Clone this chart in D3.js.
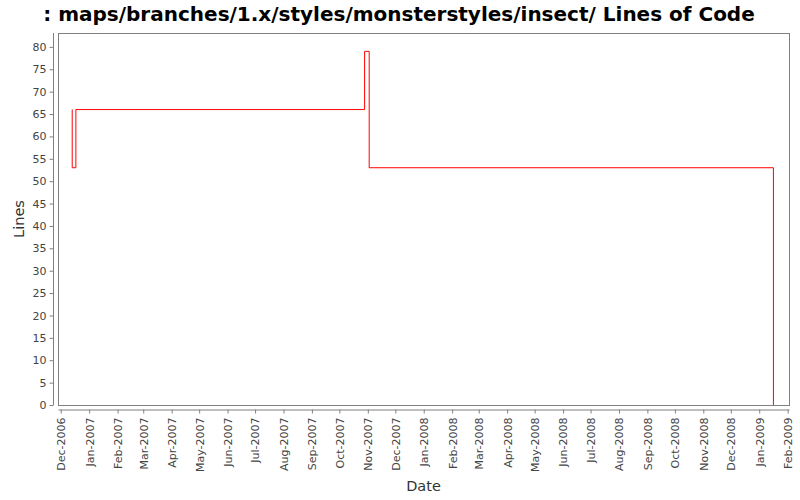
<!DOCTYPE html>
<html><head><meta charset="utf-8">
<script src="https://cdn.jsdelivr.net/npm/d3@7"></script>
<style>body{margin:0;background:#fff}svg{display:block}text{font-family:"DejaVu Sans",sans-serif}</style>
</head><body><svg id="c" width="800" height="500"></svg>
<script>
const title = ": maps/branches/1.x/styles/monsterstyles/insect/ Lines of Code";
const dates = ["2006-12-13T08:00","2006-12-13T12:00","2006-12-17T12:00","2007-10-28T12:00","2007-11-02T12:00","2009-01-16T12:00"];
const lines = [66, 53, 66, 79, 53, 0];
const yTicks = [0,5,10,15,20,25,30,35,40,45,50,55,60,65,70,75,80];
const xDomain = ["2006-11-28T00:00","2009-02-02T12:00"];
const yMax = 83.1;

const svg = d3.select("#c");
const L = 58, R = 789, T = 33, B = 405;
const parse = d3.isoParse;
const x = d3.scaleTime().domain(xDomain.map(parse)).range([L, R]);
const y = d3.scaleLinear().domain([0, yMax]).range([B, T]);

svg.append("rect").attr("x", L).attr("y", T).attr("width", R - L).attr("height", B - T)
  .attr("fill", "#fff").attr("stroke", "#808080").attr("stroke-width", 1)
  .attr("shape-rendering", "crispEdges");

// y axis
const ya = svg.append("g").attr("transform", `translate(${L - 4.5},0)`)
  .call(d3.axisLeft(y).tickValues(yTicks).tickSize(4).tickPadding(3));
// x axis
const months = d3.timeMonth.range(parse("2006-12-01"), parse("2009-02-02"));
const fmt = d3.timeFormat("%b-%Y");
const xa = svg.append("g").attr("transform", `translate(0,${B + 4.5})`)
  .call(d3.axisBottom(x).tickValues(months).tickFormat(fmt).tickSize(4).tickSizeOuter(0));
[ya, xa].forEach(g => {
  g.select(".domain").attr("stroke", "#808080");
  g.selectAll(".tick line").attr("stroke", "#808080");
  g.selectAll("text").attr("fill", "#444").attr("font-size", 11).attr("font-family", "DejaVu Sans, sans-serif");
});
ya.select(".domain").attr("d", `M0,${B}V${T}`);
xa.selectAll(".tick text").attr("transform", "rotate(-90)").attr("text-anchor", "end")
  .attr("x", -8).attr("y", 0).attr("dy", "0.35em");

// line
const data = dates.map((d, i) => ({ d: parse(d), v: lines[i] }));
svg.append("path").datum(data)
  .attr("d", d3.line().x(d => x(d.d)).y(d => y(d.v)).curve(d3.curveStepAfter))
  .attr("fill", "none").attr("stroke", "#ff0000").attr("stroke-width", 1);

svg.append("text").attr("x", 399).attr("y", 21).attr("text-anchor", "middle")
  .attr("font-size", 20).attr("font-weight", "bold").attr("fill", "#000").text(title);
svg.append("text").attr("x", (L + R) / 2).attr("y", 491).attr("text-anchor", "middle")
  .attr("font-size", 14.5).attr("fill", "#333").text("Date");
svg.append("text").attr("transform", `translate(24,${(T + B) / 2}) rotate(-90)`).attr("text-anchor", "middle")
  .attr("font-size", 14.5).attr("fill", "#333").text("Lines");
</script></body></html>
